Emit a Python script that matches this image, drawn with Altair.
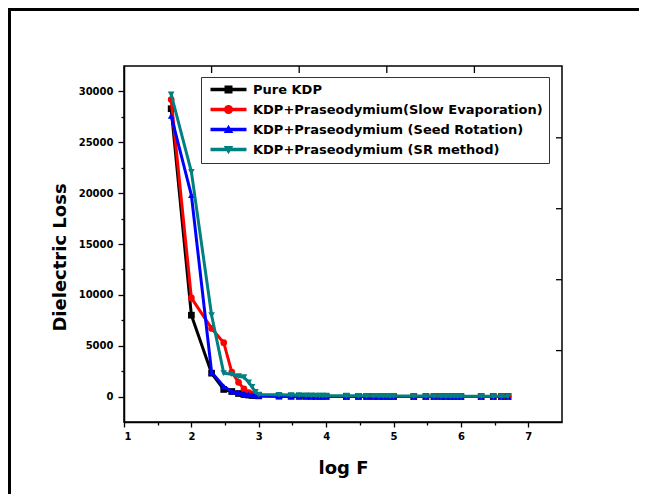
import math
import altair as alt
import pandas as pd

# ---------------- data ----------------
log_f = [1.70, 2.00, 2.30, 2.48, 2.60, 2.70, 2.78, 2.85, 2.90, 2.95,
         3.00, 3.30, 3.48, 3.60, 3.70, 3.78, 3.85, 3.90, 3.95, 4.00,
         4.30, 4.48, 4.60, 4.70, 4.78, 4.85, 4.90, 4.95, 5.00,
         5.30, 5.48, 5.60, 5.70, 5.78, 5.85, 5.90, 5.95, 6.00,
         6.30, 6.48, 6.60, 6.70]

pure_kdp = [28300, 8000, 2300, 700, 500, 300, 200, 150, 110, 90,
            70, 40, 30, 25, 20, 18, 15, 14, 12, 10,
            8, 7, 6, 6, 5, 5, 5, 4, 4,
            3, 3, 3, 3, 2, 2, 2, 2, 2,
            1, 1, 1, 1]

slow_evap = [29200, 9700, 6700, 5300, 2400, 1400, 750, 400, 250, 180,
             130, 70, 50, 40, 35, 30, 25, 22, 20, 18,
             15, 13, 12, 11, 10, 9, 9, 8, 8,
             7, 6, 6, 5, 5, 5, 4, 4, 4,
             3, 3, 3, 3]

seed_rot = [27600, 19800, 2400, 1000, 500, 350, 250, 200, 150, 100,
            60, 40, 30, 25, 20, 18, 16, 14, 12, 10,
            9, 8, 7, 7, 6, 6, 5, 5, 5,
            4, 4, 4, 3, 3, 3, 3, 3, 2,
            2, 2, 2, 2]

sr_method = [29700, 22100, 8000, 2300, 2200, 2000, 1900, 1400, 950, 450,
             200, 170, 150, 130, 120, 110, 100, 95, 90, 85,
             80, 75, 70, 68, 65, 62, 60, 58, 55,
             50, 48, 45, 43, 42, 40, 38, 37, 35,
             32, 30, 30, 28]

series_names = ["Pure KDP",
                "KDP+Praseodymium(Slow Evaporation)",
                "KDP+Praseodymium (Seed Rotation)",
                "KDP+Praseodymium (SR method)"]
series_values = [pure_kdp, slow_evap, seed_rot, sr_method]
series_colors = ["#000000", "#ff0000", "#0000ff", "#008080"]
series_shapes = ["square", "circle", "triangle-up", "triangle-down"]

x_tick_values = [1, 1.5, 2, 2.5, 3, 3.5, 4, 4.5, 5, 5.5, 6, 6.5, 7]
y_tick_values = [0, 2500, 5000, 7500, 10000, 12500, 15000, 17500,
                 20000, 22500, 25000, 27500, 30000]
top_tick_x = [2.3, 3.6, 4.9, 6.2]
right_tick_y = [25440, 18470, 11490, 4520]

# ---------------- styling ----------------
FONT = "DejaVu Sans"
W, H = 438, 356

frames = []
for name, vals in zip(series_names, series_values):
    frames.append(pd.DataFrame({"x": log_f, "y": vals, "series": name}))
df = pd.concat(frames, ignore_index=True)

x_scale = alt.Scale(domain=[1, 7.5], nice=False, zero=False)
y_scale = alt.Scale(domain=[-2500, 32500], nice=False, zero=False)

x_axis = alt.Axis(
    values=x_tick_values,
    labelExpr="datum.value % 1 === 0 ? format(datum.value, 'd') : ''",
    tickSize={"condition": {"test": "datum.value % 1 === 0", "value": 5}, "value": 3},
    tickColor="black", tickWidth=1.3,
    domainColor="black", domainWidth=1.5,
    labelFont=FONT, labelFontWeight="bold", labelFontSize=10, labelColor="black",
    labelPadding=4, grid=False,
    titleFont=FONT, titleFontWeight="bold", titleFontSize=18, titleColor="black",
    titleX=W / 2, titleY=51, titleBaseline="alphabetic", titleAnchor="middle",
)
y_axis = alt.Axis(
    values=y_tick_values,
    labelExpr="datum.value % 5000 === 0 ? format(datum.value, 'd') : ''",
    tickSize={"condition": {"test": "datum.value % 5000 === 0", "value": 6}, "value": 3},
    tickColor="black", tickWidth=1.3,
    domainColor="black", domainWidth=1.5,
    labelFont=FONT, labelFontWeight="bold", labelFontSize=10, labelColor="black",
    labelPadding=5, grid=False,
    titleFont=FONT, titleFontWeight="bold", titleFontSize=18, titleColor="black",
    titleAngle=270, titleX=-64, titleY=191, titleBaseline="middle", titleAlign="center",
)

X = alt.X("x:Q", scale=x_scale, axis=x_axis, title="log F")
Y = alt.Y("y:Q", scale=y_scale, axis=y_axis, title="Dielectric Loss")

layers = []
for name, color, shape in zip(series_names, series_colors, series_shapes):
    d = df[df["series"] == name]
    layers.append(alt.Chart(d).mark_line(color=color, strokeWidth=3).encode(x=X, y=Y))
    layers.append(alt.Chart(d).mark_point(shape=shape, filled=True, size=45,
                                          color=color, opacity=1).encode(x=X, y=Y))

# legend symbols: line with marker in the middle (custom paths)
line_path = "M-0.75,-0.44H8.25V0.44H-0.75Z"
circ_pts = []
for k in range(16):
    a = 2 * math.pi * k / 16
    circ_pts.append(f"{3.75 + 1.15 * math.cos(a):.3f},{1.15 * math.sin(a):.3f}")
circle_path = "M" + "L".join(circ_pts) + "Z"
legend_paths = [
    line_path + " M2.75,-1H4.75V1H2.75Z",
    line_path + " " + circle_path,
    line_path + " M3.75,-1.2L4.95,0.9L2.55,0.9Z",
    line_path + " M2.55,-0.9L4.95,-0.9L3.75,1.2Z",
]

leg = alt.Legend(
    title=None, orient="none", legendX=77, legendY=11, padding=6,
    labelOffset=33, symbolSize=64, symbolStrokeWidth=0, symbolOpacity=1,
    rowPadding=6, labelFont=FONT, labelFontSize=13, labelFontWeight="bold",
    labelColor="black", labelLimit=500, strokeColor="#333333", fillColor="white",
)
legend_layer = alt.Chart(df).mark_point(filled=True, opacity=0).encode(
    x=X, y=Y,
    color=alt.Color("series:N", scale=alt.Scale(domain=series_names, range=series_colors), legend=leg),
    shape=alt.Shape("series:N", scale=alt.Scale(domain=series_names, range=legend_paths), legend=leg),
)
layers.append(legend_layer)

# inward ticks on top and right frame
top_ticks = alt.Chart(pd.DataFrame({"x": top_tick_x})).mark_rule(color="black", strokeWidth=1.3).encode(
    x=X, y=alt.value(0), y2=alt.value(7))
right_ticks = alt.Chart(pd.DataFrame({"y": right_tick_y})).mark_rule(color="black", strokeWidth=1.3).encode(
    y=Y, x=alt.value(W - 6), x2=alt.value(W))
layers += [top_ticks, right_ticks]

# outer page frame (top and left edges)
top_border = alt.Chart(pd.DataFrame({"a": [0]})).mark_rule(color="black", strokeWidth=3).encode(
    x=alt.value(-116), x2=alt.value(W + 100), y=alt.value(-56.5))
left_border = alt.Chart(pd.DataFrame({"a": [0]})).mark_rule(color="black", strokeWidth=3).encode(
    x=alt.value(-114.5), y=alt.value(-58), y2=alt.value(H + 80))
layers += [top_border, left_border]

chart = alt.layer(*layers).properties(
    width=W, height=H,
    autosize=alt.AutoSizeParams(type="none"),
    padding={"left": 116, "top": 58, "right": 77, "bottom": 72},
    background="white",
).configure_view(stroke="black", strokeWidth=1.5)

chart.save("out.html", embed_options={"renderer": "svg", "actions": False})
